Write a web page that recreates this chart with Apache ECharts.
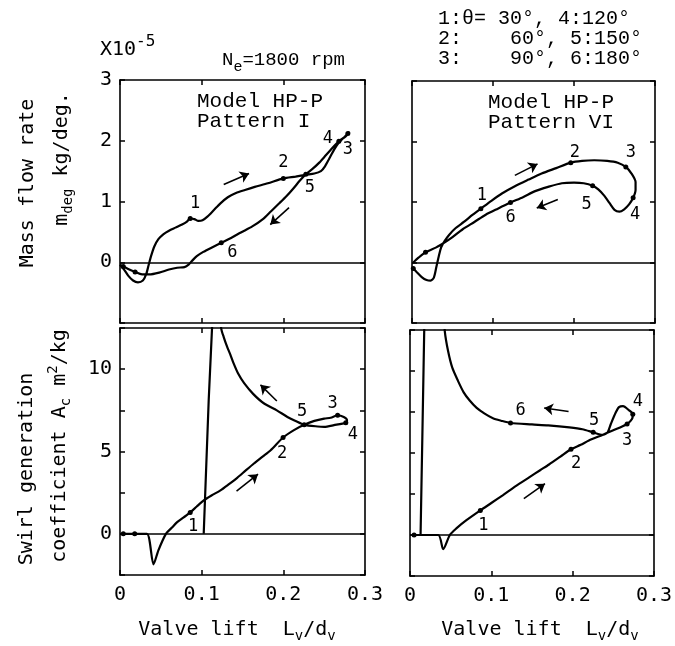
<!DOCTYPE html>
<html><head><meta charset="utf-8">
<script src="https://cdn.jsdelivr.net/npm/echarts@6/dist/echarts.min.js"></script>
<style>html,body{margin:0;padding:0;background:#fff}#c{width:675px;height:646px}</style>
</head><body><div id="c"></div>
<script>
// ---------- DATA ----------
const xTickLabels = ['0', '0.1', '0.2', '0.3'];
const flowTickLabels = [0, 1, 2, 3];
const swirlTickLabels = [0, 5, 10];

// Mass flow rate (x1e-5 kg/deg), Pattern I : [Lv/dv, m]
const flowI = [
 [0.000,-0.04],[0.005,-0.12],[0.010,-0.22],[0.016,-0.30],[0.022,-0.33],[0.028,-0.30],[0.032,-0.20],[0.035,-0.05],
 [0.038,0.10],[0.042,0.26],[0.047,0.38],[0.053,0.46],[0.060,0.52],[0.068,0.57],[0.076,0.62],[0.082,0.67],[0.086,0.72],
 [0.091,0.71],[0.096,0.68],[0.101,0.69],[0.107,0.75],[0.115,0.86],[0.123,0.97],[0.132,1.07],[0.142,1.14],[0.153,1.19],
 [0.165,1.24],[0.181,1.30],[0.200,1.38],[0.215,1.41],[0.228,1.44],[0.238,1.46],[0.246,1.50],[0.251,1.58],[0.256,1.70],
 [0.262,1.85],[0.268,1.97],[0.274,2.05],[0.279,2.12],[0.281,2.15],
 [0.277,2.08],[0.268,1.99],[0.260,1.88],[0.252,1.76],[0.244,1.64],[0.236,1.54],[0.2275,1.45],[0.220,1.34],[0.212,1.21],
 [0.204,1.09],[0.195,0.97],[0.185,0.84],[0.175,0.71],[0.162,0.59],[0.148,0.49],[0.136,0.40],[0.124,0.32],[0.112,0.24],
 [0.102,0.17],[0.094,0.10],[0.088,0.02],[0.084,-0.04],[0.079,-0.08],[0.070,-0.09],[0.060,-0.12],[0.048,-0.17],
 [0.036,-0.20],[0.027,-0.20],[0.0185,-0.16],[0.010,-0.11],[0.004,-0.07],[0.000,-0.04]
];
const flowIPtNames = ['1','2','3','4','5','6','',''];
const flowIPts = [[0.086,0.72],[0.200,1.38],[0.279,2.12],[0.268,1.99],[0.2275,1.45],[0.124,0.32],[0.0185,-0.16],[0.004,-0.07]];
const flowIArrows = [[[0.127,1.28],[0.158,1.46]], [[0.207,0.90],[0.184,0.62]]];

// Mass flow rate, Pattern VI
const flowVI = [
 [0.0016,-0.10],[0.006,-0.16],[0.012,-0.24],[0.018,-0.29],[0.023,-0.30],[0.027,-0.25],[0.030,-0.08],[0.033,0.10],
 [0.036,0.25],[0.040,0.35],[0.046,0.46],[0.054,0.57],[0.064,0.67],[0.075,0.79],[0.085,0.89],[0.098,1.02],[0.111,1.14],
 [0.127,1.26],[0.144,1.37],[0.160,1.47],[0.178,1.56],[0.196,1.65],[0.210,1.68],[0.225,1.69],[0.241,1.68],[0.254,1.65],
 [0.264,1.58],[0.271,1.47],[0.276,1.33],[0.276,1.20],[0.273,1.07],
 [0.268,0.96],[0.262,0.88],[0.256,0.84],[0.250,0.87],[0.244,0.98],[0.237,1.11],[0.230,1.21],[0.223,1.27],[0.212,1.31],
 [0.200,1.32],[0.185,1.31],[0.168,1.25],[0.152,1.18],[0.137,1.08],[0.1216,0.99],[0.106,0.89],[0.091,0.79],[0.077,0.67],
 [0.0626,0.55],[0.050,0.42],[0.040,0.33],[0.030,0.25],[0.0167,0.17],[0.008,0.08],[0.0016,0.00]
];
const flowVIPtNames = ['1','2','3','4','5','6','',''];
const flowVIPts = [[0.085,0.89],[0.196,1.65],[0.264,1.58],[0.273,1.07],[0.223,1.27],[0.1216,0.99],[0.0167,0.17],[0.0016,-0.10]];
const flowVIArrows = [[[0.127,1.44],[0.155,1.63]], [[0.180,1.04],[0.154,0.90]]];

// Swirl generation coefficient Ac (m^2/kg), Pattern I
const swirlI = [
 [0.004,0],[0.018,0],[0.033,0],[0.041,-1.85],[0.047,-1.00],[0.0562,0],[0.063,0.35],[0.070,0.71],[0.078,1.00],[0.086,1.30],
 [0.094,1.66],[0.1025,2.03],[0.112,2.33],[0.123,2.64],[0.133,3.00],[0.1435,3.40],[0.154,3.85],[0.164,4.27],[0.175,4.70],
 [0.1845,5.08],[0.1997,5.85],[0.213,6.30],[0.2255,6.62],[0.238,6.86],[0.250,7.00],[0.258,7.05],[0.2665,7.20],[0.274,7.10],
 [0.278,6.90],[0.2765,6.75],
 [0.262,6.60],[0.250,6.50],[0.242,6.52],[0.2255,6.62],[0.215,6.85],[0.205,7.10],[0.192,7.50],[0.176,7.93],[0.163,8.50],
 [0.152,9.15],[0.145,9.70],[0.139,10.37],[0.135,10.90],[0.131,11.38],[0.127,11.95],[0.124,12.45],[0.122,13.50]
];
const swirlIJump = [[0.1130,13.0],[0.1127,12.5],[0.1086,8.1],[0.1025,0]];
const swirlIPtNames = ['1','2','3','4','5','',''];
const swirlIPts = [[0.086,1.30],[0.1997,5.85],[0.2665,7.20],[0.2765,6.75],[0.2255,6.62],[0.018,0],[0.004,0]];
const swirlIArrows = [[[0.1427,2.60],[0.169,3.62]], [[0.192,8.07],[0.172,9.05]]];

// Swirl generation coefficient, Pattern VI
const swirlVI = [
 [0.005,0],[0.0347,0],[0.0408,-0.87],[0.049,0],[0.057,0.40],[0.0694,0.90],[0.0865,1.50],[0.100,1.95],[0.114,2.42],
 [0.130,2.98],[0.147,3.53],[0.160,3.95],[0.171,4.30],[0.185,4.78],[0.198,5.23],[0.210,5.50],[0.220,5.76],[0.2367,6.10],
 [0.250,6.38],[0.267,6.77],[0.273,7.07],[0.274,7.37],[0.269,7.62],[0.262,7.86],[0.257,7.80],[0.253,7.47],[0.247,6.77],
 [0.243,6.26],[0.2367,6.10],[0.2253,6.26],[0.212,6.45],[0.196,6.56],[0.170,6.68],[0.150,6.74],[0.1236,6.83],[0.112,6.97],
 [0.102,7.12],[0.0918,7.40],[0.082,7.75],[0.0734,8.20],[0.066,8.70],[0.059,9.40],[0.052,10.20],[0.0469,11.20],
 [0.0428,12.42],[0.0420,13.50]
];
const swirlVIJump = [[0.0177,13.0],[0.0175,12.5],[0.0151,5.76],[0.013,0]];
const swirlVIPtNames = ['1','2','3','4','5','6',''];
const swirlVIPts = [[0.0865,1.50],[0.198,5.23],[0.267,6.77],[0.274,7.37],[0.2253,6.26],[0.1236,6.83],[0.005,0]];
const swirlVIArrows = [[[0.140,2.22],[0.166,3.13]], [[0.195,7.53],[0.165,7.74]]];

// ---------- STYLE / LAYOUT ----------
const INK = '#000';
const MONO = 'DejaVu Sans Mono';
const TYPE = 'Liberation Mono';
const grids = [
  {left:120, top:80,  width:245, height:243},
  {left:412, top:81,  width:243, height:242},
  {left:120, top:328, width:245, height:247},
  {left:410, top:330, width:245, height:246}
];
const labelOffsets = [
  [[5,-15],[0,-16],[0,16],[-11,-3],[4,13],[11,10],[0,0],[0,0]],
  [[1,-13],[4,-10],[5,-14],[2,17],[-6,19],[0,15],[0,0],[0,0]],
  [[3,14],[-1,16],[-5,-12],[7,12],[-2,-13],[0,0],[0,0]],
  [[3,15],[5,14],[0,17],[5,-13],[1,-12],[10,-12],[0,0]]
];

function xFmt(v){ const s = (+v.toFixed(2)).toString(); return xTickLabels.includes(s) ? s : ''; }

const xAxis = [], yAxis = [];
grids.forEach((g, i) => {
  const top = i < 2;
  const base = {
    type:'value', gridIndex:i, splitLine:{show:false},
    axisLine:{show:true, onZero:false, lineStyle:{color:INK, width:1.6}},
    axisTick:{show:true, inside:true, length:5, lineStyle:{color:INK, width:1.5}}
  };
  xAxis.push(Object.assign({}, base, {position:'bottom', min:0, max:0.3, interval:0.1,
    axisLabel:{show:!top, margin:10, color:INK, fontFamily:MONO, fontSize:20, formatter:xFmt,
      showMinLabel:true, showMaxLabel:true}}));
  xAxis.push(Object.assign({}, base, {position:'top', min:0, max:0.3, interval:0.1, axisLabel:{show:false}}));
  const yr = top ? {min:-1, max:3, interval:1} : {min:-2.5, max:12.5, interval:2.5};
  const ticks = top ? flowTickLabels : swirlTickLabels;
  yAxis.push(Object.assign({}, base, yr, {position:'left',
    axisLabel:{show:(i % 2 === 0), margin:8, color:INK, fontFamily:MONO, fontSize:20,
      showMinLabel:true, showMaxLabel:true,
      formatter: v => ticks.includes(+(+v).toFixed(2)) ? String(+(+v).toFixed(2)) : ''}}));
  yAxis.push(Object.assign({}, base, yr, {position:'right', axisLabel:{show:false}}));
});

const panels = [
  {curve:flowI, jump:null, pts:flowIPts, names:flowIPtNames, arrows:flowIArrows},
  {curve:flowVI, jump:null, pts:flowVIPts, names:flowVIPtNames, arrows:flowVIArrows},
  {curve:swirlI, jump:swirlIJump, pts:swirlIPts, names:swirlIPtNames, arrows:swirlIArrows},
  {curve:swirlVI, jump:swirlVIJump, pts:swirlVIPts, names:swirlVIPtNames, arrows:swirlVIArrows}
];

const ptLabel = {position:'inside', color:INK, fontFamily:MONO, fontSize:17, textBorderWidth:0, opacity:1};
const series = [];
panels.forEach((p, i) => {
  const ax = {xAxisIndex:2*i, yAxisIndex:2*i};
  series.push(Object.assign({type:'line', data:p.curve, smooth:0.25, symbol:'none', showSymbol:false, clip:true,
    silent:true, lineStyle:{color:INK, width:2.2}, z:3,
    markLine:{silent:true, symbol:['none','none'], label:{show:false}, animation:false,
      lineStyle:{color:INK, width:1.5, type:'solid'}, data:[{yAxis:0}]}}, ax));
  if (p.jump) series.push(Object.assign({type:'line', data:p.jump, smooth:false, symbol:'none', showSymbol:false,
    clip:true, silent:true, lineStyle:{color:INK, width:2.2}, z:3}, ax));
  series.push(Object.assign({type:'scatter', symbolSize:5, itemStyle:{color:INK, opacity:1}, silent:true, z:4,
    data:p.pts.map((v, k) => ({value:v,
      label:Object.assign({}, ptLabel, {show:p.names[k] !== '', formatter:p.names[k], offset:labelOffsets[i][k]})})),
    label:ptLabel}, ax));
  series.push(Object.assign({type:'lines', coordinateSystem:'cartesian2d', silent:true, z:4,
    symbol:['none','arrow'], symbolSize:9,
    lineStyle:{color:INK, width:1.6, opacity:1, curveness:0},
    data:p.arrows.map(a => ({coords:a}))}, ax));
});

const sub = {fontSize:14, fontFamily:MONO, fill:INK, padding:[13,0,0,0]};
const big = {fontSize:20, fontFamily:MONO, fill:INK};
const graphic = [
  {type:'text', x:28, y:183, rotation:Math.PI/2, style:{text:'Mass flow rate', font:'20px ' + MONO, fill:INK, align:'center', verticalAlign:'middle'}},
  {type:'text', x:62, y:159, rotation:Math.PI/2, style:{text:'{a|m}{s|deg}{a| kg/deg.}', align:'center', verticalAlign:'middle', rich:{a:big, s:sub}}},
  {type:'text', x:27, y:469, rotation:Math.PI/2, style:{text:'Swirl generation', font:'20px ' + MONO, fill:INK, align:'center', verticalAlign:'middle'}},
  {type:'text', x:60, y:446, rotation:Math.PI/2, style:{text:'{a|coefficient A}{s|c}{a| m}{p|2}{a|/kg}', align:'center', verticalAlign:'middle',
    rich:{a:big, s:sub, p:{fontSize:14, fontFamily:MONO, fill:INK, padding:[0,0,13,0]}}}},
  {type:'text', x:237, y:630, style:{text:'{a|Valve lift  L}{s|v}{a|/d}{s|v}', align:'center', verticalAlign:'middle', rich:{a:big, s:sub}}},
  {type:'text', x:540, y:630, style:{text:'{a|Valve lift  L}{s|v}{a|/d}{s|v}', align:'center', verticalAlign:'middle', rich:{a:big, s:sub}}},
  {type:'text', x:100, y:50, style:{text:'{a|X10}{p|-5}', align:'left', verticalAlign:'middle',
    rich:{a:big, p:{fontSize:16, fontFamily:MONO, fill:INK, padding:[0,0,16,0]}}}},
  {type:'text', x:222, y:60, style:{text:'{a|N}{s|e}{a|=1800 rpm}', align:'left', verticalAlign:'middle',
    rich:{a:{fontSize:19, fontFamily:TYPE, fill:INK}, s:{fontSize:15, fontFamily:TYPE, fill:INK, padding:[14,0,0,0]}}}},
  {type:'text', x:438, y:19, style:{text:'1:\u03b8= 30°, 4:120°', font:'20px ' + TYPE, fill:INK, align:'left', verticalAlign:'middle'}},
  {type:'text', x:438, y:39, style:{text:'2:    60°, 5:150°', font:'20px ' + TYPE, fill:INK, align:'left', verticalAlign:'middle'}},
  {type:'text', x:438, y:59, style:{text:'3:    90°, 6:180°', font:'20px ' + TYPE, fill:INK, align:'left', verticalAlign:'middle'}},
  {type:'text', x:197, y:101, style:{text:'Model HP-P', font:'21px ' + TYPE, fill:INK, align:'left', verticalAlign:'middle'}},
  {type:'text', x:197, y:121, style:{text:'Pattern I', font:'21px ' + TYPE, fill:INK, align:'left', verticalAlign:'middle'}},
  {type:'text', x:488, y:102, style:{text:'Model HP-P', font:'21px ' + TYPE, fill:INK, align:'left', verticalAlign:'middle'}},
  {type:'text', x:488, y:122, style:{text:'Pattern VI', font:'21px ' + TYPE, fill:INK, align:'left', verticalAlign:'middle'}}
];

const chart = echarts.init(document.getElementById('c'), null, {renderer:'canvas'});
chart.setOption({
  animation:false,
  backgroundColor:'#fff',
  grid: grids.map(g => Object.assign({show:false, containLabel:false}, g)),
  xAxis, yAxis, series, graphic
});
</script></body></html>
